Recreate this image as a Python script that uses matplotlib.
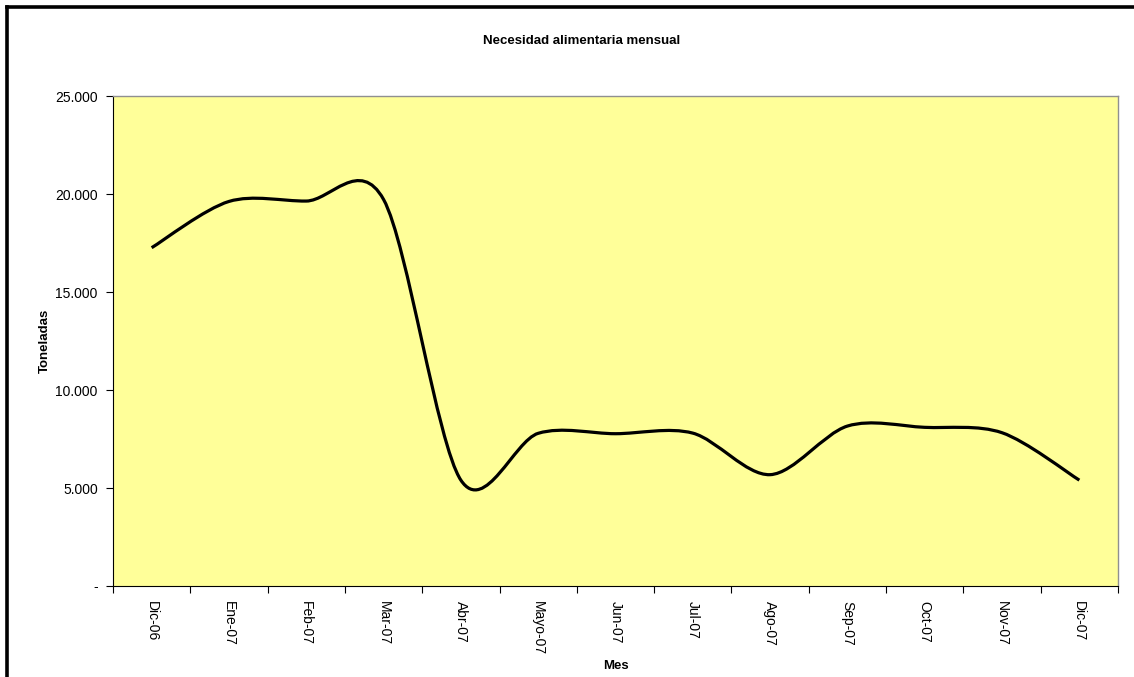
import numpy as np
from matplotlib import pyplot as plt
from matplotlib.path import Path
from matplotlib.patches import PathPatch
from matplotlib.lines import Line2D

plt.rcParams['font.family'] = ['Liberation Sans', 'DejaVu Sans']

# months (categories) and monthly need in tonnes
meses = ['Dic-06', 'Ene-07', 'Feb-07', 'Mar-07', 'Abr-07', 'Mayo-07', 'Jun-07',
         'Jul-07', 'Ago-07', 'Sep-07', 'Oct-07', 'Nov-07', 'Dic-07']
toneladas = [17260, 19620, 19640, 19720, 5400, 7790, 7770,
             7800, 5680, 8160, 8095, 7820, 5400]
y_ticks = [0, 5000, 10000, 15000, 20000, 25000]
y_labels = ['-', '5.000', '10.000', '15.000', '20.000', '25.000']


def smooth_path(xs, ys, k=0.155):
    # Excel-like smoothed line: cubic bezier with catmull-rom style control points
    xs = np.asarray(xs, float)
    ys = np.asarray(ys, float)
    n = len(xs)
    verts = [(xs[0], ys[0])]
    codes = [Path.MOVETO]
    for i in range(n - 1):
        p0 = max(i - 1, 0)
        p3 = min(i + 2, n - 1)
        c1 = (xs[i] + (xs[i + 1] - xs[p0]) * k, ys[i] + (ys[i + 1] - ys[p0]) * k)
        c2 = (xs[i + 1] - (xs[p3] - xs[i]) * k, ys[i + 1] - (ys[p3] - ys[i]) * k)
        verts += [c1, c2, (xs[i + 1], ys[i + 1])]
        codes += [Path.CURVE4] * 3
    return Path(verts, codes)


fig = plt.figure(figsize=(11.34, 6.77), dpi=100)
ax = fig.add_axes([113 / 1134, 1 - 586 / 677, (1118 - 113) / 1134, (586 - 96) / 677])
ax.set_facecolor('#FFFF99')

x = np.arange(len(meses))
ax.add_patch(PathPatch(smooth_path(x, toneladas), facecolor='none',
                       edgecolor='black', lw=2.3, capstyle='butt'))

ax.set_xlim(-0.5, len(meses) - 0.5)
ax.set_ylim(0, 25000)

# category labels centered, tick marks on category borders
ax.set_xticks(x)
ax.set_xticklabels(meses, rotation=-90, fontsize=10, va='top', ha='center')
ax.set_xticks(np.arange(len(meses) + 1) - 0.5, minor=True)
ax.tick_params(axis='x', which='major', length=0, pad=11)
ax.tick_params(axis='x', which='minor', length=5, width=0.8, direction='out')

ax.set_yticks(y_ticks)
ax.set_yticklabels(y_labels, fontsize=10)
ax.tick_params(axis='y', length=5, width=0.8, direction='out', pad=6)

for side in ['top', 'right']:
    ax.spines[side].set_color('#909090')
    ax.spines[side].set_linewidth(1.0)
for side in ['left', 'bottom']:
    ax.spines[side].set_color('black')
    ax.spines[side].set_linewidth(0.8)

ax.set_xlabel('Mes', fontsize=9.5, fontweight='bold', labelpad=3)
ax.set_ylabel('Toneladas', fontsize=9.5, fontweight='bold', labelpad=3)
fig.text(582 / 1134, 1 - 41 / 677, 'Necesidad alimentaria mensual', ha='center',
         va='center', fontsize=9.5, fontweight='bold')

# chart area border (only top and left visible in the crop)
fig.add_artist(Line2D([7 / 1134, 7 / 1134], [0, 1 - 7 / 677], transform=fig.transFigure,
                      color='black', lw=2.6, solid_capstyle='projecting'))
fig.add_artist(Line2D([7 / 1134, 1], [1 - 7 / 677, 1 - 7 / 677], transform=fig.transFigure,
                      color='black', lw=2.6, solid_capstyle='projecting'))

fig.savefig('out.png', dpi=100)
